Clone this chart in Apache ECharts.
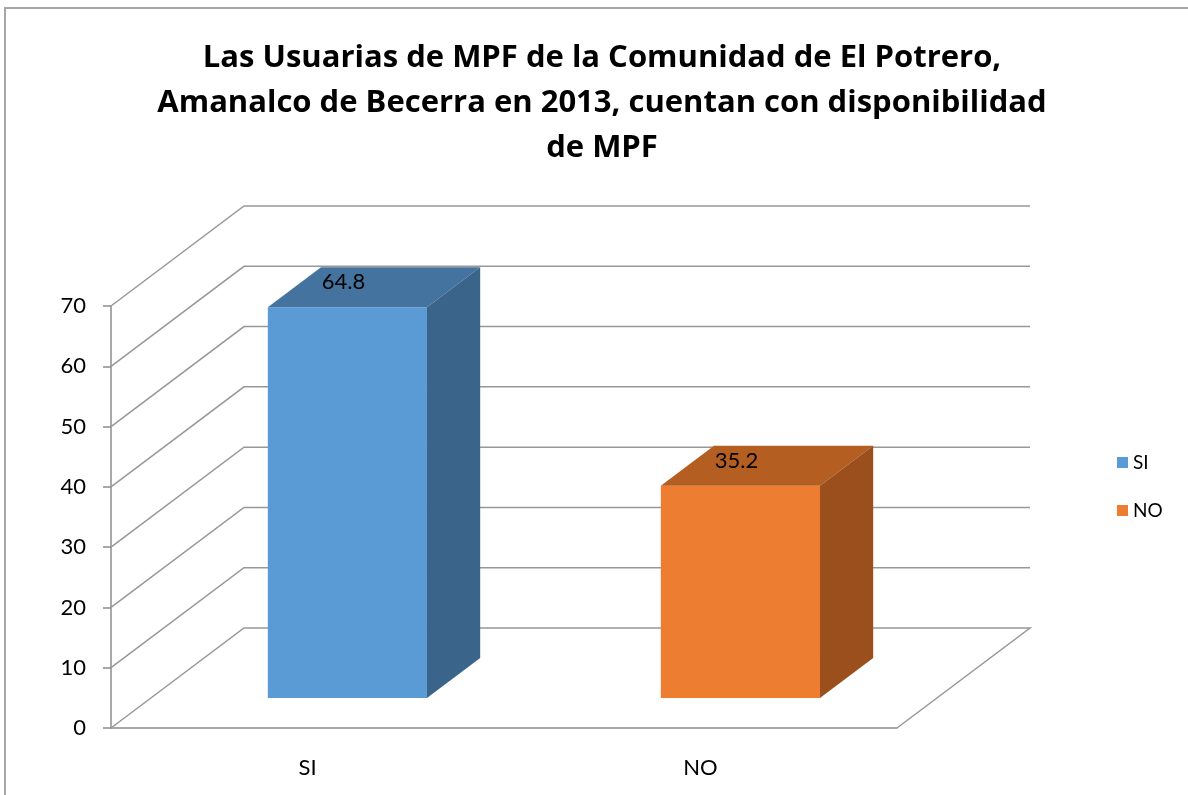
<!DOCTYPE html>
<html>
<head>
<meta charset="utf-8">
<style>
  html, body { margin: 0; padding: 0; background: #fff; }
  #main { width: 1188px; height: 795px; }
</style>
<script src="https://cdn.jsdelivr.net/npm/echarts@6/dist/echarts.min.js"></script>
</head>
<body>
<div id="main"></div>
<script>
// datos
var categories = ['SI', 'NO'];
var siValues = [64.8];
var noValues = [35.2];
var yTicks = [0, 10, 20, 30, 40, 50, 60, 70];

var FONT = 'Lato';
var DEPTH_X = 133, DEPTH_Y = 100; // profundidad de la pared 3D

var chart = echarts.init(document.getElementById('main'));

// paredes y piso con perspectiva
function renderWalls(params, api) {
  var cs = params.coordSys;
  var v = api.value(0);
  var y = api.coord([0, v])[1];
  var x0 = cs.x, x1 = cs.x + cs.width;
  var pts = [[x0, y], [x0 + DEPTH_X, y - DEPTH_Y], [x1 + DEPTH_X, y - DEPTH_Y]];
  if (v === 0) pts.push([x1, y]);
  return {
    type: 'polyline',
    shape: { points: pts },
    style: { stroke: '#989898', lineWidth: 1.5, fill: null },
    z2: 1
  };
}

// barra 3D
function makeBox(front, top, side) {
  return function (params, api) {
    var idx = api.value(0);
    var v = api.value(1);
    var band = api.size([1, 0])[0];
    var c = api.coord([idx, v]);
    var base = api.coord([idx, 0]);
    var w = band * 0.405;
    var ox = DEPTH_X * 0.3, oy = DEPTH_Y * 0.3;
    var dx = DEPTH_X * 0.4, dy = DEPTH_Y * 0.4;
    var l = c[0] + ox - w / 2, r = c[0] + ox + w / 2;
    var t = c[1] - oy, b = base[1] - oy;
    return {
      type: 'group',
      children: [
        { type: 'rect', shape: { x: l, y: t, width: w, height: b - t }, style: { fill: front } },
        { type: 'polygon', shape: { points: [[l, t], [l + dx, t - dy], [r + dx, t - dy], [r, t]] }, style: { fill: top } },
        { type: 'polygon', shape: { points: [[r, t], [r + dx, t - dy], [r + dx, b - dy], [r, b]] }, style: { fill: side } },
        { type: 'text', style: { text: String(v), x: c[0] + ox - 4, y: t - 25, align: 'center', verticalAlign: 'middle',
            font: '22px ' + FONT, fill: '#000' } }
      ]
    };
  };
}

var option = {
  backgroundColor: '#fff',
  animation: false,
  title: {
    text: 'Las Usuarias de MPF de la Comunidad de El Potrero,\nAmanalco de Becerra en 2013, cuentan con disponibilidad\nde MPF',
    left: 597,
    textAlign: 'center',
    top: 31,
    textStyle: { fontFamily: 'Open Sans', fontWeight: 'bold', fontSize: 31, lineHeight: 45, color: '#000' }
  },
  legend: {
    orient: 'vertical',
    left: 1112,
    top: 448,
    itemWidth: 11,
    itemHeight: 11,
    itemGap: 29,
    icon: 'rect',
    textStyle: { fontFamily: FONT, fontSize: 19, color: '#000' },
    data: ['SI', 'NO']
  },
  grid: { left: 111, right: 291, top: 306, bottom: 67 },
  xAxis: {
    type: 'category',
    data: categories,
    axisLine: { lineStyle: { color: '#8c8c8c', width: 1.5 } },
    axisTick: { length: 9, lineStyle: { color: '#8c8c8c', width: 1.5 } },
    axisLabel: { margin: 29, fontFamily: FONT, fontSize: 22, color: '#000' }
  },
  yAxis: {
    type: 'value',
    min: 0,
    max: 70,
    interval: 10,
    axisLine: { show: true, lineStyle: { color: '#8c8c8c', width: 1.5 } },
    axisTick: { show: true, length: 8, lineStyle: { color: '#8c8c8c', width: 1.5 } },
    splitLine: { show: false },
    axisLabel: { margin: 25, fontFamily: FONT, fontSize: 22, color: '#000' }
  },
  graphic: [{
    type: 'rect',
    shape: { x: 5, y: 8, width: 1300, height: 900 },
    style: { fill: null, stroke: '#a6a6a6', lineWidth: 2 },
    silent: true
  }],
  series: [
    {
      type: 'custom',
      name: 'walls',
      renderItem: renderWalls,
      data: yTicks.map(function (t) { return [t]; }),
      encode: { y: 0 },
      silent: true,
      z: 1
    },
    {
      type: 'custom',
      name: 'SI',
      color: '#5b9bd5',
      renderItem: makeBox('#5b9bd5', '#44739f', '#3a6489'),
      data: siValues.map(function (v) { return [0, v]; }),
      encode: { x: 0, y: 1 },
      z: 3
    },
    {
      type: 'custom',
      name: 'NO',
      color: '#ed7d31',
      renderItem: makeBox('#ed7d31', '#b55e22', '#9a4f1d'),
      data: noValues.map(function (v) { return [1, v]; }),
      encode: { x: 0, y: 1 },
      z: 3
    }
  ]
};

chart.setOption(option);
</script>
</body>
</html>
